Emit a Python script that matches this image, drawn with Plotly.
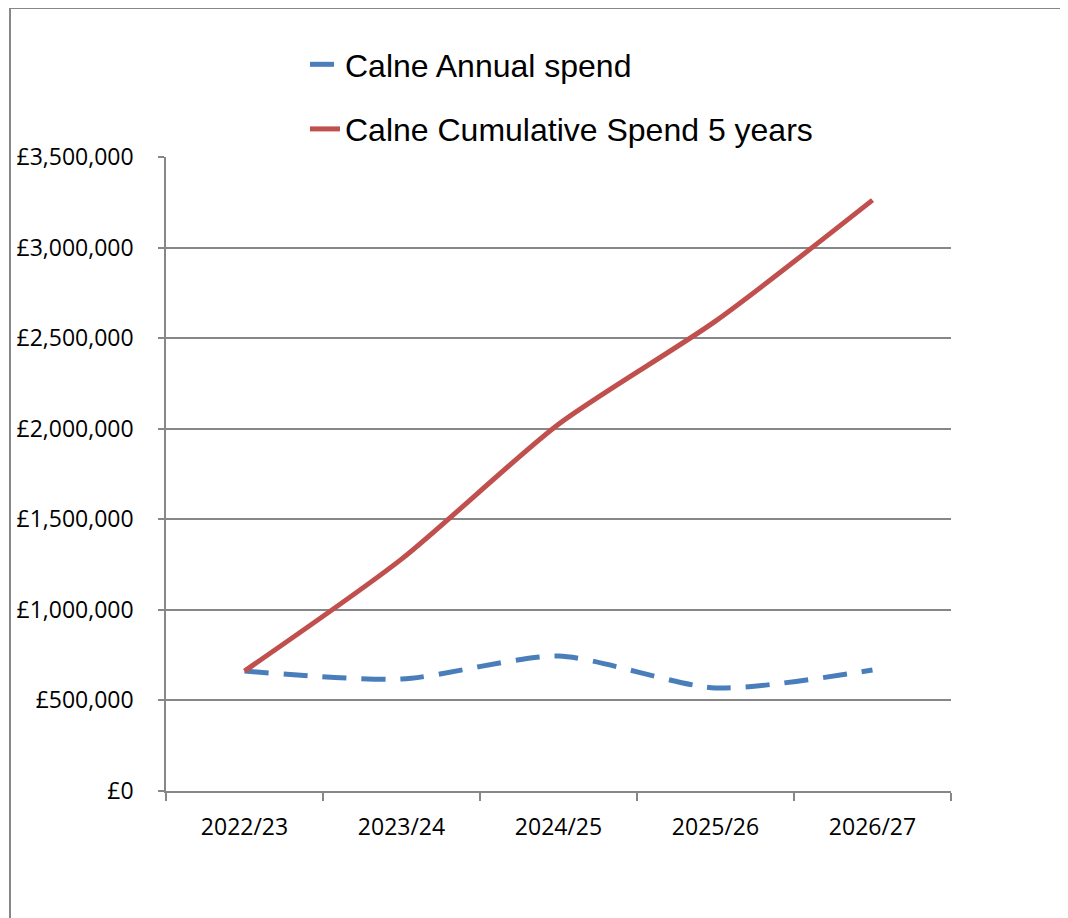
import plotly.graph_objects as go

years = ["2022/23", "2023/24", "2024/25", "2025/26", "2026/27"]
annual_spend = [662000, 618000, 745000, 569000, 668000]
cumulative_spend = [662000, 1280000, 2025000, 2594000, 3262000]
y_ticks = [0, 500000, 1000000, 1500000, 2000000, 2500000, 3000000, 3500000]
y_tick_labels = ["£" + f"{v:,}" for v in y_ticks]

OFF = 8  # page offset of the figure in the browser
W, H = 1068, 918
L, T = 166 - OFF, 157 - OFF
pw, ph = 785, 634
R, B = W - L - pw, H - T - ph

def px_x(x):
    return (x - OFF - L) / pw

def px_y(y):
    return (T + ph - (y - OFF)) / ph

fig = go.Figure()
fig.add_trace(go.Scatter(
    x=years, y=annual_spend, mode="lines", name="Calne Annual spend",
    line=dict(color="#4A7EBB", width=5, dash="24px,15px", shape="spline", smoothing=0.7),
    legendgroup="a",
))
fig.add_trace(go.Scatter(
    x=years, y=cumulative_spend, mode="lines", name="Calne Cumulative Spend 5 years",
    line=dict(color="#C0504D", width=5, shape="spline", smoothing=0.7),
    legendgroup="b",
))

grey = "#878787"
fig.update_layout(
    width=W, height=H,
    margin=dict(l=L, r=R, t=T, b=B, pad=0, autoexpand=False),
    paper_bgcolor="white", plot_bgcolor="white",
    showlegend=True,
    legend=dict(
        x=px_x(305), y=px_y(37), xanchor="left", yanchor="top",
        font=dict(family="Liberation Sans, Arial", size=32, color="black"),
        bgcolor="rgba(0,0,0,0)", tracegroupgap=20, itemwidth=30,
    ),
    xaxis=dict(
        type="category", range=[-0.5, 4.5], automargin=False,
        showline=True, linecolor=grey, linewidth=1.5,
        ticks="outside", tickson="boundaries", ticklen=8, tickcolor=grey, tickwidth=1.5,
        showgrid=False, ticklabelstandoff=15,
        tickfont=dict(family="Open Sans", size=23, color="black"),
    ),
    yaxis=dict(
        range=[0, 3500000], tickvals=y_ticks, ticktext=y_tick_labels, automargin=False,
        showline=True, linecolor=grey, linewidth=1.5,
        ticks="outside", ticklen=6, tickcolor=grey, tickwidth=1.5,
        showgrid=True, gridcolor=grey, gridwidth=1.5, zeroline=False,
        ticklabelstandoff=20,
        tickfont=dict(family="Open Sans", size=23, color="black"),
    ),
    shapes=[
        dict(type="line", xref="paper", yref="paper",
             x0=px_x(10), x1=px_x(10), y0=px_y(8), y1=px_y(H + 20),
             line=dict(color=grey, width=2)),
        dict(type="line", xref="paper", yref="paper",
             x0=px_x(10), x1=px_x(W + 20), y0=px_y(8), y1=px_y(8),
             line=dict(color=grey, width=2)),
    ],
)

fig.write_html("out.html")
